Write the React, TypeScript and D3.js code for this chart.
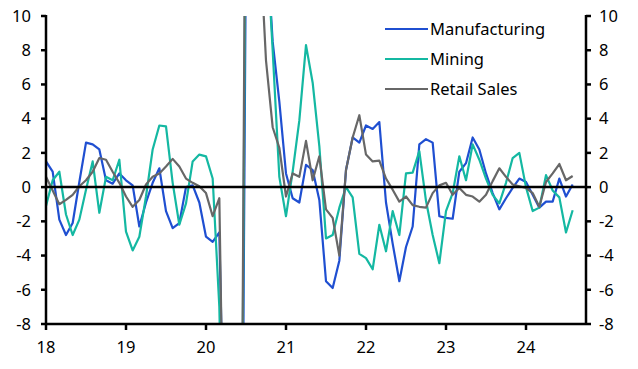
import React from "react";
import * as d3 from "d3";

// monthly, Jan 2018 .. Aug 2024
const yearLabels = ["18", "19", "20", "21", "22", "23", "24"];
const yTicks = [-8, -6, -4, -2, 0, 2, 4, 6, 8, 10];

const manufacturing = [
  1.5, 0.9, -1.9, -2.8, -2.1, 0.3, 2.6, 2.5, 2.2, 0.4, 0.2, 0.8,
  0.4, 0.1, -2.3, -0.9, 0.25, 1.1, -1.4, -2.4, -2.1, 0.0, 0.1, -0.9,
  -2.9, -3.2, -2.65, -21, -35, -45, 15, 40, 30, 15, 8.5, 5.0,
  0.8, -0.65, -0.9, 1.3, 1.0, -0.75, -5.5, -5.9, -4.3, 1.0, 2.9, 2.6,
  3.6, 3.4, 3.8, -0.9, -3.3, -5.5, -3.5, -2.3, 2.5, 2.8, 2.6, -1.7,
  -1.8, -1.85, 0.9, 1.4, 2.9, 2.2, 0.8, -0.35, -1.3, -0.65, -0.05, 0.5,
  0.3, -0.45, -1.2, -0.85, -0.85, 0.5, -0.55, 0.15,
];

const mining = [
  -1.1, 0.4, 0.9, -1.6, -2.8, -1.9, -0.15, 1.5, -1.5, 0.6, 0.4, 1.6,
  -2.6, -3.7, -2.9, -0.55, 2.2, 3.6, 3.55, 0.25, -2.2, -0.95, 1.5, 1.9,
  1.8, 0.5, -7.0, -25, -35, -40, 20, 35, 30, 15, 8.0, 0.6,
  -1.7, 0.9, 3.9, 8.3, 6.1, 2.4, -3.0, -2.8, -1.2, 0.0, -0.6, -3.9,
  -4.15, -4.8, -2.2, -3.75, -1.4, -2.8, 0.8, 0.85, 2.1, -0.8, -2.8, -4.45,
  -1.4, -0.35, 1.8, 0.4, 2.5, 1.6, 0.5, -0.45, -0.95, 0.25, 1.7, 2.0,
  0.0, -1.4, -1.2, 0.7, -0.2, -0.6, -2.65, -1.35,
];

const retailSales = [
  0.6, -0.2, -1.0, -0.75, -0.45, 0.05, 0.4, 0.9, 1.7, 1.6, 0.9, 0.25,
  -0.55, -1.15, -0.75, 0.15, 0.6, 0.8, 1.2, 1.65, 1.2, 0.5, 0.25, 0.05,
  -0.35, -1.7, -0.65, -25, -20, -40, 25, 20, 15, 7.4, 3.5, 2.3,
  -0.55, 0.8, 0.6, 2.7, 0.4, 1.8, -1.3, -1.8, -4.0, 1.0, 2.9, 4.2,
  1.9, 1.5, 1.55, 0.5, -0.15, -0.85, -0.55, -1.05, -1.15, -1.2, -0.35, 0.1,
  0.25, -0.45, -0.05, -0.45, -0.55, -0.85, -0.45, 0.35, 1.1, 0.6, 0.15, 0.05,
  -0.05, -0.35, -1.15, 0.3, 0.8, 1.35, 0.4, 0.65,
];

const seriesNames = ["Manufacturing", "Mining", "Retail Sales"];
const seriesColors = ["#1f4fd1", "#14b8a2", "#676767"];

const W = 638;
const H = 369;
const font = "'Noto Sans', sans-serif";
const fs = 16.5;

export default function App() {
  const x = d3.scaleLinear().domain([0, 81]).range([46, 586]);
  const y = d3.scaleLinear().domain([-8, 10]).range([324, 16]);
  const line = d3
    .line<number>()
    .x((_, i) => x(i))
    .y((d) => y(d));

  const series = [manufacturing, mining, retailSales];
  const [x0, x1] = x.range();
  const [yb, yt] = y.range();

  return (
    <svg
      width={W}
      height={H}
      style={{ position: "absolute", left: 0, top: 0, background: "#fff" }}
      fontFamily={font}
    >
      <defs>
        <clipPath id="plot">
          <rect x={x0} y={yt} width={x1 - x0} height={yb - yt} />
        </clipPath>
      </defs>

      <g clipPath="url(#plot)">
        {series.map((s, k) => (
          <path
            key={k}
            d={line(s) ?? ""}
            fill="none"
            stroke={seriesColors[k]}
            strokeWidth={2.2}
            strokeLinejoin="round"
          />
        ))}
      </g>

      {/* zero line */}
      <line x1={x0} x2={x1} y1={y(0)} y2={y(0)} stroke="#000" strokeWidth={2.5} />

      {/* left and right axes */}
      {[x0, x1].map((ax, k) => (
        <g key={k}>
          <line x1={ax} x2={ax} y1={yt - 1} y2={yb + 1} stroke="#000" strokeWidth={2.5} />
          {yTicks.map((t) => (
            <g key={t}>
              <line
                x1={ax}
                x2={k === 0 ? ax - 5 : ax + 5}
                y1={y(t)}
                y2={y(t)}
                stroke="#000"
                strokeWidth={2.5}
              />
              <text
                x={k === 0 ? 31 : 599}
                y={y(t)}
                dy="0.35em"
                textAnchor={k === 0 ? "end" : "start"}
                fontSize={fs}
                fill="#000"
              >
                {t}
              </text>
            </g>
          ))}
        </g>
      ))}

      {/* bottom axis */}
      <line x1={x0} x2={x1} y1={yb} y2={yb} stroke="#000" strokeWidth={2.5} />
      {yearLabels.map((lab, k) => (
        <g key={lab}>
          <line x1={x(k * 12)} x2={x(k * 12)} y1={yb} y2={yb + 6} stroke="#000" strokeWidth={2.5} />
          <text x={x(k * 12)} y={347} dy="0.35em" textAnchor="middle" fontSize={fs} fill="#000">
            {lab}
          </text>
        </g>
      ))}

      {/* legend */}
      {seriesNames.map((name, k) => (
        <g key={name} transform={`translate(385,${29 + k * 30})`}>
          <line x1={0} x2={43} y1={0} y2={0} stroke={seriesColors[k]} strokeWidth={2.2} />
          <text x={45} y={0} dy="0.35em" fontSize={fs} fill="#000">
            {name}
          </text>
        </g>
      ))}
    </svg>
  );
}
